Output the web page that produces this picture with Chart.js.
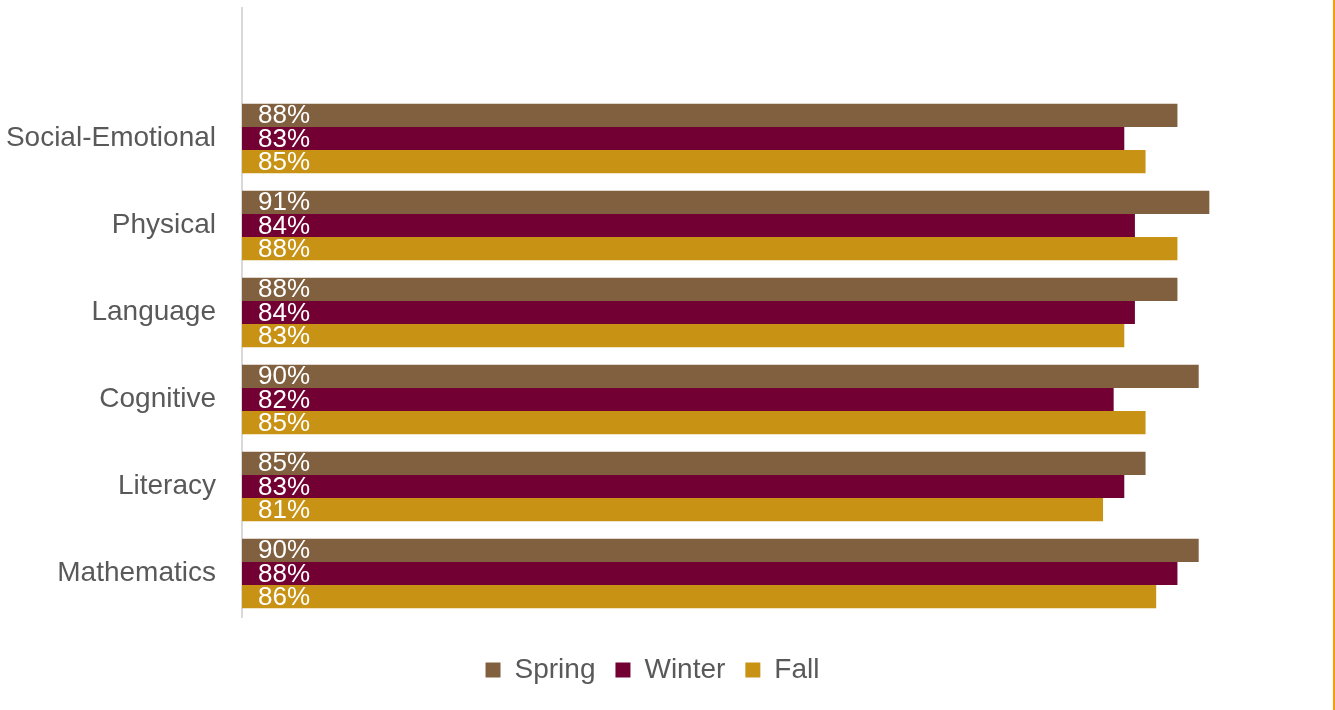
<!DOCTYPE html>
<html>
<head>
<meta charset="utf-8">
<script src="https://cdn.jsdelivr.net/npm/chart.js@4"></script>
<style>
  html, body { margin: 0; padding: 0; background: #fff; overflow: hidden; }
  #wrap { position: relative; width: 1335px; height: 710px; }
  #skillsChart { display: block; }
  #edge { position: absolute; left: 1333px; top: 0; width: 2px; height: 710px; background: #f5a000; }
</style>
</head>
<body>
<div id="wrap">
  <canvas id="skillsChart" width="1335" height="710"></canvas>
  <div id="edge"></div>
</div>
<script>
// Data (top to bottom; first row is an empty slot)
const domains = ["", "Social-Emotional", "Physical", "Language", "Cognitive", "Literacy", "Mathematics"];
const spring = [null, 88, 91, 88, 90, 85, 90];
const winter = [null, 83, 84, 84, 82, 83, 88];
const fall = [null, 85, 88, 83, 85, 81, 86];

const FONT = "'Liberation Sans', Arial, sans-serif";

// Draw value labels inside bars, near the base
const barLabels = {
  id: "barLabels",
  afterDatasetsDraw(chart) {
    const ctx = chart.ctx;
    ctx.save();
    ctx.font = "26px " + FONT;
    ctx.fillStyle = "#ffffff";
    ctx.textAlign = "left";
    ctx.textBaseline = "middle";
    chart.data.datasets.forEach((ds, i) => {
      chart.getDatasetMeta(i).data.forEach((bar, j) => {
        if (ds.data[j] == null) return;
        ctx.fillText(ds.data[j] + "%", bar.base + 16, bar.y + 1);
      });
    });
    ctx.restore();
  },
};

const ctx = document.getElementById("skillsChart").getContext("2d");
const skillsChart = new Chart(ctx, {
  type: "bar",
  data: {
    labels: domains,
    datasets: [
      { label: "Spring", data: spring, backgroundColor: "#80603f" },
      { label: "Winter", data: winter, backgroundColor: "#720032" },
      { label: "Fall", data: fall, backgroundColor: "#c89214" },
    ],
  },
  options: {
    indexAxis: "y",
    responsive: false,
    animation: false,
    layout: { padding: { left: 0, top: 8, right: 30, bottom: 16 } },
    datasets: { bar: { categoryPercentage: 0.8, barPercentage: 1.0 } },
    scales: {
      x: {
        min: 0,
        max: 100,
        afterFit: (scale) => { scale.height = 19; },
        grid: { display: false, drawTicks: false },
        border: { display: false },
        ticks: { display: false },
      },
      y: {
        afterFit: (scale) => { scale.width = 242; },
        grid: { display: false, drawTicks: true, tickLength: 26 },
        border: { display: true, color: "#d9d9d9", width: 2 },
        ticks: {
          padding: 0,
          color: "#595959",
          font: { family: FONT, size: 28, lineHeight: 0.4 },
        },
      },
    },
    plugins: {
      tooltip: { enabled: false },
      legend: {
        position: "bottom",
        labels: {
          boxWidth: 15,
          boxHeight: 15,
          padding: 20,
          color: "#595959",
          font: { family: FONT, size: 28 },
        },
      },
    },
  },
  plugins: [barLabels],
});
</script>
</body>
</html>
